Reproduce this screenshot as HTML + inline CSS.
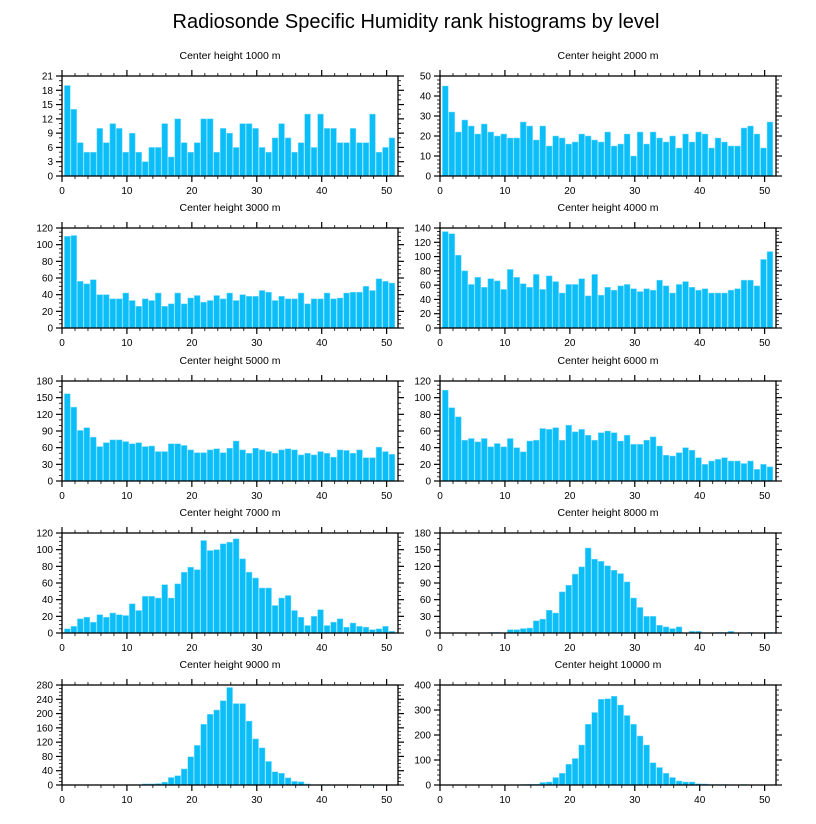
<!DOCTYPE html>
<html><head><meta charset="utf-8"><style>
html,body{margin:0;padding:0;background:#fff;}
svg{display:block;font-family:"Liberation Sans",sans-serif;}
</style></head><body>
<svg id="chart" width="816" height="824" viewBox="0 0 816 824" xmlns="http://www.w3.org/2000/svg">
<text x="416" y="28" font-size="20" text-anchor="middle" fill="#000">Radiosonde Specific Humidity rank histograms by level</text>
</svg>
<script>
const titles = ["Center height 1000 m","Center height 2000 m","Center height 3000 m","Center height 4000 m","Center height 5000 m","Center height 6000 m","Center height 7000 m","Center height 8000 m","Center height 9000 m","Center height 10000 m"];
const yMax = [21,50,120,140,180,120,120,180,280,400];
const yStep = [3,10,20,20,30,20,20,30,40,100];
const yMinor = [1,2,5,5,10,5,5,10,10,20];
const xTicks = [0,10,20,30,40,50];
const h1000 = [19,14,7,5,5,10,7,11,10,5,9,5,3,6,6,11,4,12,7,5,7,12,12,5,10,9,6,11,11,10,6,5,8,11,8,5,7,13,6,13,10,10,7,7,10,7,7,13,5,6,8];
const h2000 = [45,32,22,28,25,21,26,22,20,21,19,19,27,25,18,25,15,20,19,16,17,21,20,18,17,22,15,16,21,10,22,16,22,19,17,20,14,21,17,22,21,14,19,17,15,15,24,25,21,14,27];
const h3000 = [110,111,56,53,58,40,40,35,35,42,33,26,35,33,42,26,29,42,29,36,39,31,33,39,35,42,33,40,38,38,45,43,33,38,35,35,42,29,35,35,42,35,36,42,43,43,50,45,59,56,54];
const h4000 = [135,132,102,80,61,71,57,69,66,54,82,71,62,57,75,54,73,65,49,61,61,69,45,75,46,57,53,59,61,55,51,55,53,67,59,49,61,65,57,53,55,49,49,49,53,55,67,67,59,96,107];
const h5000 = [157,133,91,96,79,62,69,74,74,71,67,69,62,63,53,53,67,67,64,56,51,51,56,58,51,59,72,56,50,59,56,53,50,56,58,56,47,50,47,53,50,43,56,55,50,56,42,42,61,53,48];
const h6000 = [109,88,77,49,51,47,51,41,45,41,51,40,35,48,49,63,62,64,49,67,59,62,55,49,58,60,58,48,55,44,44,49,53,42,31,30,34,40,37,28,20,24,26,28,24,24,21,24,14,20,17];
const h7000 = [5,8,17,19,13,22,19,24,22,21,35,27,44,44,42,58,42,59,73,79,76,111,99,100,107,109,113,89,73,66,54,54,33,42,45,27,19,9,20,28,9,13,17,7,12,8,7,4,5,8,2];
const h8000 = [0,0,0,0,0,0,0,1,1,0,6,6,8,9,22,25,41,36,74,86,106,119,153,133,129,121,113,107,92,63,46,30,30,14,11,8,11,0,3,3,0,0,1,1,3,0,0,1,0,0,1];
const h9000 = [0,0,0,0,0,0,0,0,0,0,0,0,3,3,4,8,21,26,45,79,111,170,198,210,236,273,228,228,179,129,104,66,37,33,20,10,9,3,0,1,1,0,0,0,1,0,1,1,0,0,0];
const h10000 = [0,0,0,0,0,0,0,0,0,0,0,0,2,3,3,10,12,30,47,83,106,160,243,290,343,345,355,320,278,243,196,160,89,70,47,30,16,12,12,5,4,2,2,2,1,1,2,1,0,0,0];
const series = [h1000,h2000,h3000,h4000,h5000,h6000,h7000,h8000,h9000,h10000];

const svg = document.getElementById('chart');
const NS = 'http://www.w3.org/2000/svg';
function mk(tag, attrs, parent){const e=document.createElementNS(NS,tag);for(const k in attrs)e.setAttribute(k,attrs[k]);parent.appendChild(e);return e;}
const W=336,H=100,XMAX=51.75;
for(let p=0;p<10;p++){
  const col=p%2,row=Math.floor(p/2);
  const L=col?440:62, T=Math.round(76+row*152.3);
  const g=mk('g',{},svg);
  
  
  const xs=v=>L+v/XMAX*W;
  const ys=v=>T+H-v/yMax[p]*H;
  const t=mk('text',{x:L+W/2,y:T-17,'font-size':10.5,'text-anchor':'middle'},g);
  
  
  t.textContent=titles[p];
  const d=series[p];
  for(let i=0;i<d.length;i++){
    if(d[i]<=0)continue;
    const c=xs(i+0.82), top=ys(Math.min(d[i],yMax[p]));
    const r=mk('rect',{x:c-2.9,y:top,width:5.8,height:T+H-top,fill:'#0cbef8',stroke:'#7fdcff','stroke-width':0.5},g);
    
    
  }
  const f=mk('rect',{x:L,y:T,width:W,height:H,fill:'none',stroke:'#000','stroke-width':1.3},g);
  
  
  for(let v=0;v<=XMAX;v+=2){
    const maj=v%10===0, x=xs(v), len=maj?6:3;
    mk('line',{x1:x,y1:T+H,x2:x,y2:T+H+len,stroke:'#000','stroke-width':maj?1.2:0.8},g);
    mk('line',{x1:x,y1:T,x2:x,y2:T-len,stroke:'#000','stroke-width':maj?1.2:0.8},g);
  }
  for(const v of xTicks){
    const tl=mk('text',{x:xs(v),y:T+H+18,'font-size':10,'text-anchor':'middle'},g);
    
    
    tl.textContent=v;
  }
  for(let v=0;v<=yMax[p]+1e-9;v+=yMinor[p]){
    const maj=Math.abs(v/yStep[p]-Math.round(v/yStep[p]))<1e-6, y=ys(v), len=maj?6:3;
    mk('line',{x1:L,y1:y,x2:L-len,y2:y,stroke:'#000','stroke-width':maj?1.2:0.8},g);
    mk('line',{x1:L+W,y1:y,x2:L+W+len,y2:y,stroke:'#000','stroke-width':maj?1.2:0.8},g);
    if(maj){
      const yl=mk('text',{x:L-9,y:y+3.5,'font-size':10,'text-anchor':'end'},g);
      
      
      yl.textContent=v;
    }
  }
}
</script>
</body></html>
